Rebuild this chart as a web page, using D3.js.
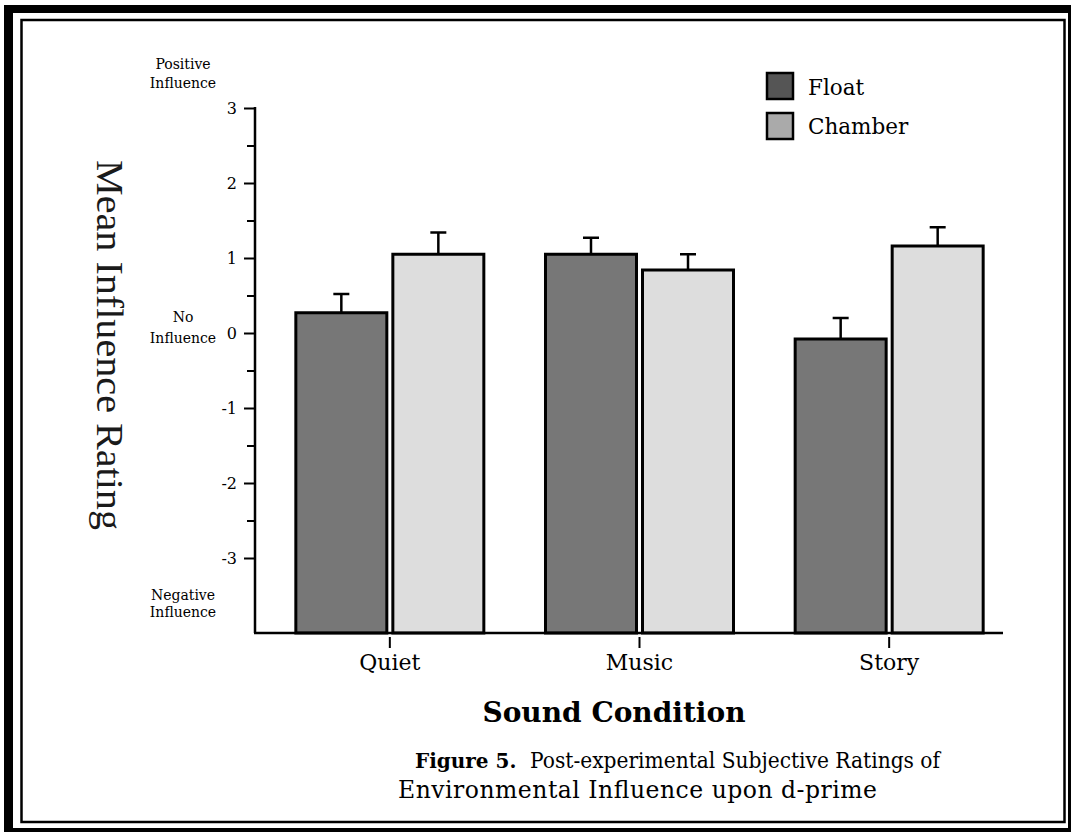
<!DOCTYPE html>
<html>
<head>
<meta charset="utf-8">
<script src="https://cdn.jsdelivr.net/npm/d3@7"></script>
<style>
  body { margin: 0; background: #fff; }
  text { font-family: "DejaVu Serif", serif; fill: #000; }
</style>
</head>
<body>
<svg id="fig5" width="1071" height="832"></svg>
<script>

// values
const categories = ["Quiet", "Music", "Story"];
const series = ["Float", "Chamber"];
const floatMeans = [0.27, 1.05, -0.08];
const floatErr = [0.25, 0.22, 0.28];
const chamberMeans = [1.05, 0.84, 1.16];
const chamberErr = [0.29, 0.21, 0.25];
const yTicks = [-3, -2, -1, 0, 1, 2, 3];
const yMinorTicks = [-2.5, -1.5, -0.5, 0.5, 1.5, 2.5];
const seriesFill = { "Float": "#777777", "Chamber": "#dddddd" };
const legendFill = { "Float": "#555555", "Chamber": "#aaaaaa" };

function append_text( grp, x, y, text, size, align='start', weight='normal' ){
    return grp.append("text")
        .style("font-size", size + "px")
        .style("font-weight", weight)
        .attr("text-anchor", align)
        .attr("x", x)
        .attr("y", y)
        .text( text );
}

var svg = d3.select("#fig5");

// frame
svg.append("rect").attr("x", 4).attr("y", 5).attr("width", 1080).attr("height", 840).attr("fill", "#000");
svg.append("rect").attr("x", 13).attr("y", 13).attr("width", 1055).attr("height", 815).attr("fill", "#fff");
svg.append("rect").attr("x", 21.5).attr("y", 20).attr("width", 1043).attr("height", 802)
    .attr("fill", "none").attr("stroke", "#000").attr("stroke-width", 2.5);

var y = d3.scaleLinear().domain([-4, 3]).range([633, 108]);
var x0 = d3.scaleBand().domain(categories).range([265, 1014]).paddingInner(0.247).paddingOuter(0.1235);
var x1 = d3.scaleBand().domain(series).range([0, x0.bandwidth()]).paddingInner(0.062);

var rows = [];
categories.forEach( function(c, i){
    rows.push({ cat: c, s: "Float", v: floatMeans[i], e: floatErr[i] });
    rows.push({ cat: c, s: "Chamber", v: chamberMeans[i], e: chamberErr[i] });
});

// error bars first so bar outline sits over them
var g = svg.append("g");
g.selectAll("line.err")
    .data(rows).enter().append("line")
    .attr("x1", function(d){ return x0(d.cat) + x1(d.s) + x1.bandwidth()/2; })
    .attr("x2", function(d){ return x0(d.cat) + x1(d.s) + x1.bandwidth()/2; })
    .attr("y1", function(d){ return y(d.v); })
    .attr("y2", function(d){ return y(d.v + d.e); })
    .attr("stroke", "#000").attr("stroke-width", 2.5);
g.selectAll("line.cap")
    .data(rows).enter().append("line")
    .attr("x1", function(d){ return x0(d.cat) + x1(d.s) + x1.bandwidth()/2 - 8; })
    .attr("x2", function(d){ return x0(d.cat) + x1(d.s) + x1.bandwidth()/2 + 8; })
    .attr("y1", function(d){ return y(d.v + d.e); })
    .attr("y2", function(d){ return y(d.v + d.e); })
    .attr("stroke", "#000").attr("stroke-width", 2.5);

g.selectAll("rect.bar")
    .data(rows).enter().append("rect")
    .attr("x", function(d){ return x0(d.cat) + x1(d.s); })
    .attr("y", function(d){ return y(d.v); })
    .attr("width", x1.bandwidth())
    .attr("height", function(d){ return y(-4) - y(d.v); })
    .attr("fill", function(d){ return seriesFill[d.s]; })
    .attr("stroke", "#000").attr("stroke-width", 3);

// y axis
var yAxis = svg.append("g").attr("transform", "translate(255,0)")
    .call(d3.axisLeft(y).tickValues(yTicks).tickSize(11).tickPadding(7).tickFormat(d3.format("d")));
svg.append("g").attr("transform", "translate(255,0)")
    .call(d3.axisLeft(y).tickValues(yMinorTicks).tickSize(8).tickFormat(""))
    .select(".domain").remove();
yAxis.select(".domain").remove();
svg.selectAll(".tick line").attr("stroke", "#000").attr("stroke-width", 2);
yAxis.selectAll(".tick text")
    .style("font-size", "16px")
    .style("font-family", "DejaVu Serif, serif")
    .attr("dy", "0.36em")
    .text(function(d){ return d < 0 ? "-" + Math.abs(d) : d; });

svg.append("line").attr("x1", 255).attr("x2", 255).attr("y1", y(3) - 1).attr("y2", y(-4))
    .attr("stroke", "#000").attr("stroke-width", 2.5);
svg.append("line").attr("x1", 254).attr("x2", 1003).attr("y1", y(-4)).attr("y2", y(-4))
    .attr("stroke", "#000").attr("stroke-width", 2.5);

// x axis ticks and labels
var xg = svg.append("g");
categories.forEach( function(c){
    var cx = x0(c) + x0.bandwidth()/2;
    xg.append("line").attr("x1", cx).attr("x2", cx).attr("y1", 637).attr("y2", 648)
        .attr("stroke", "#000").attr("stroke-width", 2);
    append_text( xg, cx, 670, c, 22, 'middle' );
});

// side labels
var side = svg.append("g");
append_text( side, 183, y(3) - 39, "Positive", 14, 'middle' );
append_text( side, 183, y(3) - 20, "Influence", 14, 'middle' );
append_text( side, 183, y(0) - 11, "No", 14, 'middle' );
append_text( side, 183, y(0) + 10, "Influence", 14, 'middle' );
append_text( side, 183, y(-3) + 42, "Negative", 14, 'middle' );
append_text( side, 183, y(-3) + 59, "Influence", 14, 'middle' );

// y title, reads top to bottom
svg.append("text")
    .style("font-family", "Liberation Serif, serif")
    .style("font-size", "38px")
    .style("fill", "#1a1a1a")
    .attr("text-anchor", "middle")
    .attr("transform", "translate(97,345) rotate(90)")
    .attr("textLength", 370)
    .attr("lengthAdjust", "spacingAndGlyphs")
    .text("Mean Influence Rating");

// x title
append_text( svg, 614, 722, "Sound Condition", 28, 'middle', 'bold' );

// legend
var leg = svg.append("g");
series.forEach( function(s, i){
    leg.append("rect")
        .attr("x", 767).attr("y", 73 + i*40).attr("width", 26).attr("height", 26)
        .attr("fill", legendFill[s]).attr("stroke", "#000").attr("stroke-width", 2.5);
    append_text( leg, 808, 95 + i*39, s, 21.5 );
});

// caption
var cap = svg.append("g");
append_text( cap, 415, 768, "Figure 5.", 20, 'start', 'bold' );
append_text( cap, 530, 768, "Post-experimental Subjective Ratings of", 22 )
    .attr("textLength", 410).attr("lengthAdjust", "spacingAndGlyphs");
append_text( cap, 398, 798, "Environmental Influence upon d-prime", 23.5 )
    .attr("textLength", 479).attr("lengthAdjust", "spacing");

</script>
</body>
</html>
